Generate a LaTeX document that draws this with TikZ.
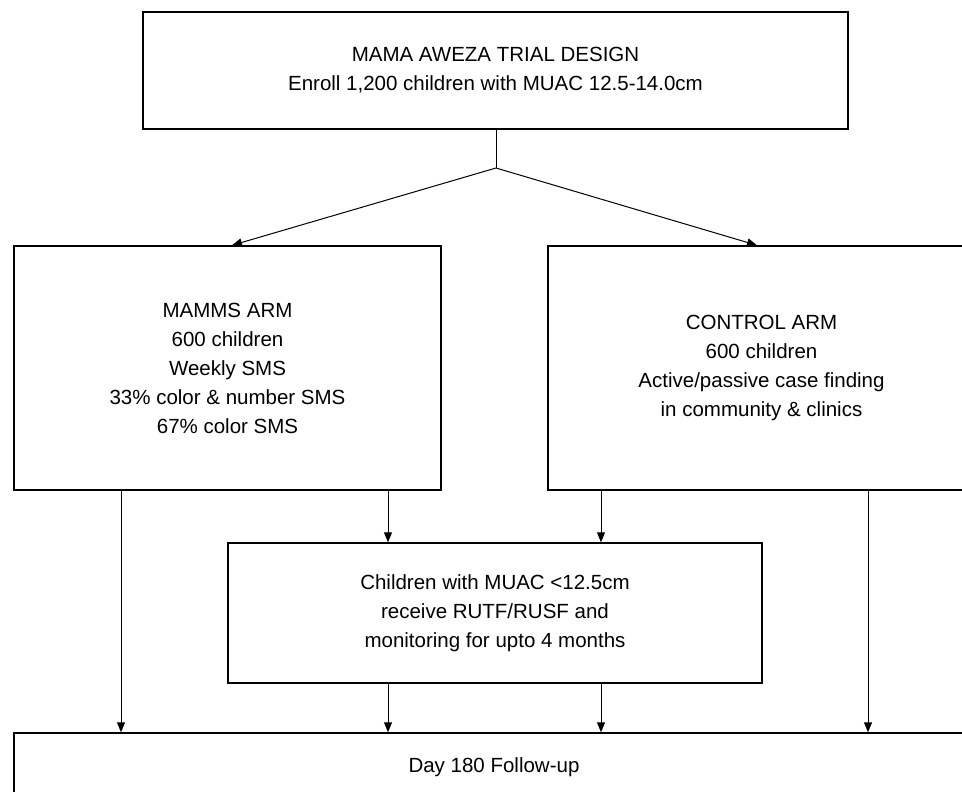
\documentclass[tikz,border=0pt]{standalone}
\usepackage{fontspec}
\setmainfont{Liberation Sans}
\usetikzlibrary{arrows.meta}

\begin{document}
\begin{tikzpicture}[x=1pt,y=-1pt,
  box/.style={draw=black,line width=1.4pt,align=center,inner sep=0pt,
    font=\fontsize{20.5}{29}\selectfont},
  arr/.style={draw=black,line width=1pt,-{Triangle[length=10pt,width=8pt]}}]
\useasboundingbox[fill=white] (0,0) rectangle (962,792);
% Boxes
\node[box,minimum width=705pt,minimum height=117pt] (design) at (495.5,70.5)
  {MAMA AWEZA TRIAL DESIGN\\Enroll 1,200 children with MUAC 12.5-14.0cm};
\node[box,minimum width=427pt,minimum height=244pt] (mamms) at (227.5,368)
  {MAMMS ARM\\600 children\\Weekly SMS\\33\% color \& number SMS\\67\% color SMS};
\node[box,minimum width=427pt,minimum height=244pt] (control) at (761.5,368)
  {CONTROL ARM\\600 children\\Active/passive case finding\\in community \& clinics};
\node[box,minimum width=534pt,minimum height=140pt] (treat) at (495,613)
  {Children with MUAC <12.5cm\\receive RUTF/RUSF and\\monitoring for upto 4 months};
\node[box,minimum width=960pt,minimum height=68pt] (followup) at (494,767)
  {Day 180 Follow-up};
% Columns of the vertical arrows
\coordinate (c1) at (121,0);
\coordinate (c2) at (388,0);
\coordinate (c3) at (601,0);
\coordinate (c4) at (868,0);
% Randomisation split
\coordinate (split) at (496,168);
\draw[line width=1pt] (design.south -| split) -- (split);
\draw[arr] (split) -- ([xshift=4.5pt]mamms.north);
\draw[arr] (split) -- ([xshift=-4.5pt]control.north);
% Arms to treatment and follow-up
\draw[arr] (mamms.south -| c1) -- (followup.north -| c1);
\draw[arr] (mamms.south -| c2) -- (treat.north -| c2);
\draw[arr] (control.south -| c3) -- (treat.north -| c3);
\draw[arr] (control.south -| c4) -- (followup.north -| c4);
\draw[arr] (treat.south -| c2) -- (followup.north -| c2);
\draw[arr] (treat.south -| c3) -- (followup.north -| c3);
\end{tikzpicture}
\end{document}
